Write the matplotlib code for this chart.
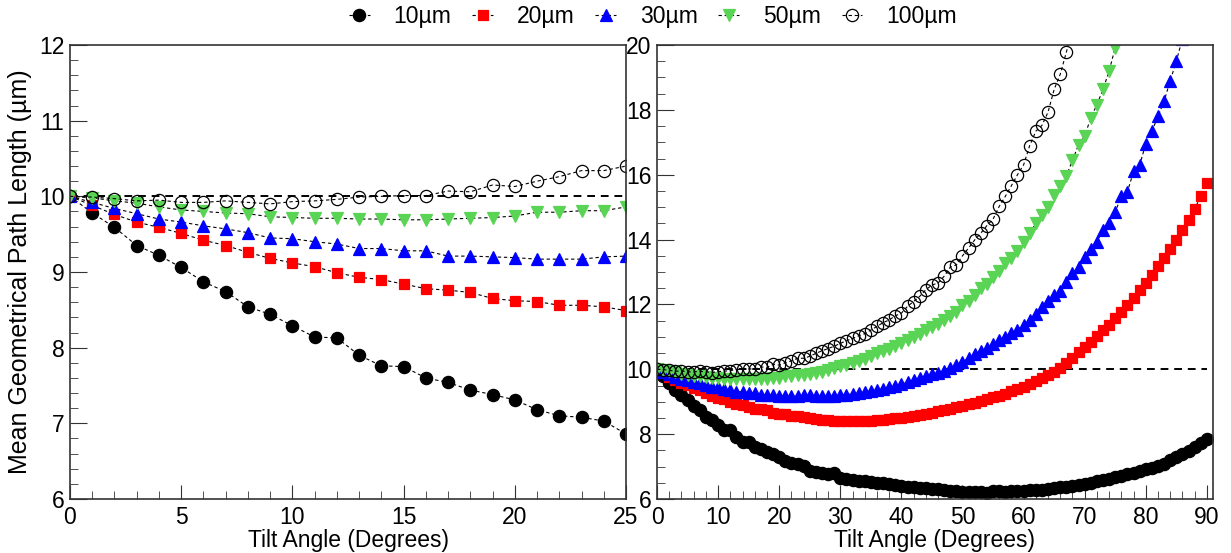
import matplotlib
matplotlib.use("Agg")
import matplotlib.pyplot as plt
from matplotlib.lines import Line2D
from matplotlib.ticker import MultipleLocator
import numpy as np

plt.rcParams['font.family'] = ['Liberation Sans', 'DejaVu Sans']

# tilt angle in degrees, one point per degree
angle = np.arange(91)

# mean path length (um) for each pixel pitch
len_10 = [10.00, 9.78, 9.59, 9.35, 9.22, 9.06, 8.87, 8.74, 8.54, 8.44,
          8.29, 8.14, 8.13, 7.90, 7.76, 7.75, 7.60, 7.54, 7.44, 7.38,
          7.31, 7.18, 7.10, 7.08, 7.03, 6.86, 6.83, 6.80, 6.78, 6.79,
          6.66, 6.62, 6.60, 6.57, 6.55, 6.52, 6.50, 6.48, 6.46, 6.43,
          6.40, 6.38, 6.36, 6.35, 6.33, 6.31, 6.30, 6.28, 6.26, 6.24,
          6.22, 6.23, 6.21, 6.22, 6.20, 6.24, 6.25, 6.23, 6.24, 6.25,
          6.24, 6.27, 6.29, 6.28, 6.32, 6.34, 6.36, 6.38, 6.40, 6.43,
          6.47, 6.50, 6.54, 6.60, 6.63, 6.67, 6.71, 6.76, 6.81, 6.86,
          6.91, 6.97, 7.02, 7.09, 7.20, 7.28, 7.38, 7.49, 7.60, 7.72,
          7.84]
len_20 = [10.00, 9.88, 9.76, 9.66, 9.59, 9.51, 9.42, 9.35, 9.26, 9.18,
          9.12, 9.07, 8.99, 8.93, 8.90, 8.84, 8.78, 8.76, 8.73, 8.65,
          8.62, 8.61, 8.56, 8.56, 8.54, 8.49, 8.47, 8.45, 8.44, 8.41,
          8.39, 8.40, 8.41, 8.41, 8.42, 8.42, 8.43, 8.44, 8.47, 8.49,
          8.51, 8.54, 8.57, 8.60, 8.63, 8.66, 8.70, 8.73, 8.78, 8.83,
          8.88, 8.92, 8.96, 9.01, 9.07, 9.13, 9.19, 9.25, 9.32, 9.39,
          9.46, 9.54, 9.63, 9.72, 9.82, 9.92, 10.05, 10.20, 10.35, 10.52,
          10.69, 10.85, 11.02, 11.20, 11.38, 11.57, 11.77, 11.98, 12.20, 12.43,
          12.67, 12.92, 13.17, 13.44, 13.72, 14.00, 14.30, 14.60, 14.95, 15.33,
          15.73]
len_30 = [10.00, 9.92, 9.84, 9.77, 9.70, 9.66, 9.61, 9.57, 9.52, 9.45,
          9.44, 9.40, 9.37, 9.31, 9.31, 9.28, 9.28, 9.21, 9.21, 9.20,
          9.19, 9.17, 9.17, 9.17, 9.20, 9.21, 9.19, 9.18, 9.17, 9.18,
          9.20, 9.22, 9.24, 9.27, 9.30, 9.33, 9.36, 9.40, 9.44, 9.49,
          9.54, 9.60, 9.66, 9.72, 9.78, 9.84, 9.90, 9.96, 10.03, 10.12,
          10.22, 10.35, 10.46, 10.55, 10.66, 10.77, 10.90, 11.00, 11.12, 11.22,
          11.38, 11.52, 11.72, 11.92, 12.12, 12.28, 12.40, 12.68, 12.98, 13.16,
          13.45, 13.72, 13.94, 14.28, 14.52, 14.86, 15.33, 15.48, 16.10, 16.30,
          16.95, 17.34, 17.80, 18.27, 18.90, 19.50, 20.20]
len_50 = [10.00, 9.98, 9.94, 9.91, 9.86, 9.82, 9.80, 9.78, 9.77, 9.73,
          9.72, 9.71, 9.71, 9.70, 9.70, 9.69, 9.69, 9.70, 9.71, 9.72,
          9.74, 9.79, 9.79, 9.81, 9.81, 9.86, 9.89, 9.93, 9.98, 10.03,
          10.09, 10.14, 10.20, 10.26, 10.33, 10.42, 10.49, 10.56, 10.64, 10.71,
          10.80, 10.90, 11.00, 11.08, 11.21, 11.29, 11.41, 11.52, 11.64, 11.77,
          11.98, 12.11, 12.29, 12.50, 12.63, 12.84, 13.04, 13.27, 13.42, 13.66,
          13.94, 14.20, 14.50, 14.76, 15.00, 15.38, 15.66, 15.97, 16.44, 16.93,
          17.20, 17.75, 18.16, 18.63, 19.20, 19.92, 20.65]
len_100 = [10.00, 9.99, 9.97, 9.94, 9.95, 9.92, 9.92, 9.94, 9.92, 9.90,
           9.93, 9.94, 9.96, 9.99, 10.00, 10.01, 10.01, 10.07, 10.06, 10.15,
           10.13, 10.20, 10.26, 10.34, 10.34, 10.40, 10.49, 10.57, 10.64, 10.71,
           10.80, 10.88, 10.95, 11.03, 11.10, 11.21, 11.32, 11.44, 11.52, 11.65,
           11.73, 11.94, 12.09, 12.25, 12.45, 12.60, 12.66, 12.87, 13.15, 13.22,
           13.50, 13.74, 13.99, 14.20, 14.43, 14.63, 15.02, 15.33, 15.66, 16.00,
           16.30, 16.90, 17.34, 17.52, 17.93, 18.63, 19.10, 19.78, 20.50]

series = [
    ('10µm', len_10, 'o', 'black', 'black', 8.8),
    ('20µm', len_20, 's', '#ff0000', '#ff0000', 7.8),
    ('30µm', len_30, '^', '#0000ff', '#0000ff', 8.8),
    ('50µm', len_50, 'v', '#59d454', '#59d454', 8.8),
    ('100µm', len_100, 'o', 'black', 'none', 8.8),
]
nominal = 10.0

fig = plt.figure(figsize=(12.31, 5.53), dpi=100)
ax1 = fig.add_axes([70/1231, 54/553, 556/1231, 454/553])
ax2 = fig.add_axes([657/1231, 54/553, 556/1231, 454/553])

for ax in (ax1, ax2):
    ax.plot([0, 90], [nominal, nominal], color='black', ls=(0, (4, 3)), lw=1.4, zorder=1)
    for name, vals, mk, ec, fc, ms in series:
        ax.plot(angle[:len(vals)], vals, ls=(0, (3, 2.5)), lw=0.8, color='black',
                marker=mk, ms=ms, mec=ec, mfc=fc, mew=0.9, zorder=2)
    for s in ax.spines.values():
        s.set_color('#333333')
        s.set_linewidth(1.2)
    ax.tick_params(which='both', direction='in', top=False, right=False,
                   labelsize=16.5, colors='#333333', labelcolor='black')
    ax.tick_params(axis='x', which='major', length=10, pad=5)
    ax.tick_params(axis='x', which='minor', length=5.5)
    ax.tick_params(axis='y', which='major', length=12, pad=4)
    ax.tick_params(axis='y', which='minor', length=6)
    ax.set_xlabel('Tilt Angle (Degrees)', fontsize=16.5, labelpad=0)

ax1.set_xlim(0, 25)
ax1.set_ylim(6, 12)
ax1.xaxis.set_major_locator(MultipleLocator(5))
ax1.xaxis.set_minor_locator(MultipleLocator(1))
ax1.yaxis.set_major_locator(MultipleLocator(1))
ax1.yaxis.set_minor_locator(MultipleLocator(0.2))
ax1.set_ylabel('Mean Geometrical Path Length (µm)', fontsize=18, labelpad=5)

ax2.set_xlim(0, 91)
ax2.set_ylim(6, 20)
ax2.xaxis.set_major_locator(MultipleLocator(10))
ax2.xaxis.set_minor_locator(MultipleLocator(2))
ax2.yaxis.set_major_locator(MultipleLocator(2))
ax2.yaxis.set_minor_locator(MultipleLocator(0.5))

handles = [Line2D([], [], ls=(0, (3, 2.5)), lw=0.8, color='black', marker=mk,
                  ms=ms, mec=ec, mfc=fc, mew=0.9)
           for name, vals, mk, ec, fc, ms in series]
fig.legend(handles, [s[0] for s in series], loc='center', ncol=5,
           bbox_to_anchor=(653/1231, 1 - 17/553), frameon=False, fontsize=16.5,
           handlelength=0.9, handletextpad=1.05, columnspacing=0.9)

fig.savefig('out.png', dpi=100)
